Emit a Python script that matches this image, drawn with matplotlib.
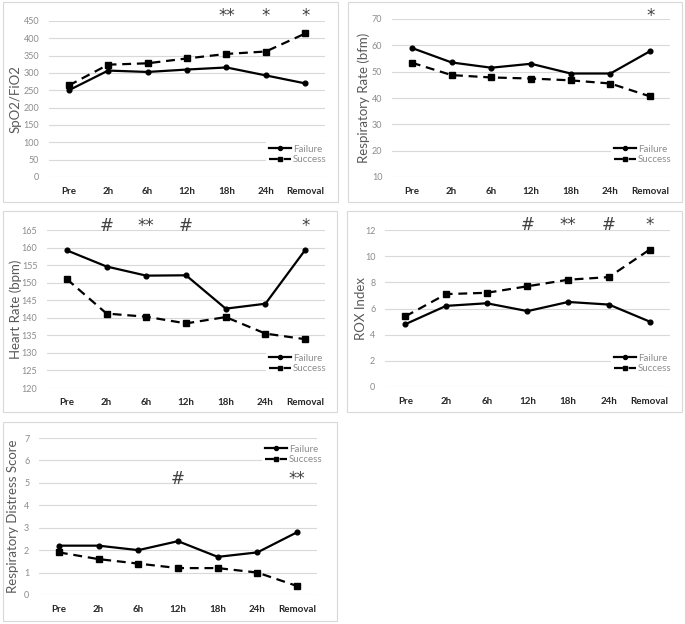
import matplotlib
matplotlib.use("Agg")
import matplotlib.pyplot as plt
from matplotlib.patches import Rectangle
from matplotlib.transforms import blended_transform_factory

plt.rcParams['font.family'] = ['Lato', 'DejaVu Sans']

W, H = 685, 624

# categories
times = ['Pre', '2h', '6h', '12h', '18h', '24h', 'Removal']

# SpO2/FiO2
spo2_failure = [250, 307, 303, 310, 316, 293, 270]
spo2_success = [264, 324, 328, 342, 355, 362, 414]
spo2_marks = {4: '**', 5: '*', 6: '*'}

# respiratory rate
rr_failure = [59.0, 53.5, 51.5, 53.0, 49.3, 49.3, 57.8]
rr_success = [53.4, 48.7, 47.8, 47.4, 46.7, 45.5, 40.6]
rr_marks = {6: '*'}

# heart rate
hr_failure = [159.2, 154.6, 152.0, 152.1, 142.6, 144.0, 159.3]
hr_success = [151.0, 141.2, 140.3, 138.4, 140.2, 135.5, 133.9]
hr_marks = {1: '#', 2: '**', 3: '#', 6: '*'}

# ROX index
rox_failure = [4.8, 6.2, 6.4, 5.8, 6.5, 6.3, 5.0]
rox_success = [5.4, 7.1, 7.2, 7.7, 8.2, 8.4, 10.5]
rox_marks = {3: '#', 4: '**', 5: '#', 6: '*'}

# respiratory distress score
rds_failure = [2.2, 2.2, 2.0, 2.4, 1.7, 1.9, 2.8]
rds_success = [1.9, 1.6, 1.4, 1.2, 1.2, 1.0, 0.4]
rds_marks = {3: '#', 6: '**'}

fig = plt.figure(figsize=(W / 100, H / 100), dpi=100)


def px_box(x0, y0, x1, y1):
    return [x0 / W, 1 - y1 / H, (x1 - x0) / W, (y1 - y0) / H]


def border(x0, y0, x1, y1):
    r = Rectangle((x0 / W, 1 - y1 / H), (x1 - x0) / W, (y1 - y0) / H,
                  transform=fig.transFigure, fill=False,
                  edgecolor='#d9d9d9', lw=0.8)
    fig.patches.append(r)


def panel(axbox, frame, fail, succ, yticks, ylabel, marks, mark_y,
          label_x, leg_xy):
    border(*frame)
    ax = fig.add_axes(px_box(*axbox))
    x = range(len(times))
    ax.plot(x, fail, color='black', lw=1.6, marker='o', ms=3.4,
            label='Failure', zorder=3)
    ax.plot(x, succ, color='black', lw=1.6, marker='s', ms=4,
            dashes=(4, 2.6), label='Success', zorder=3)
    ax.set_xlim(-0.5, len(times) - 0.5)
    ax.set_ylim(yticks[0], yticks[-1])
    ax.set_yticks(yticks)
    ax.set_xticks(list(x))
    ax.set_xticklabels(times, fontsize=7, fontweight='bold', color='#262626')
    ax.tick_params(axis='y', labelsize=6.5, labelcolor='#8c8c8c', length=0, pad=7)
    ax.tick_params(axis='x', length=0, pad=7)
    ax.grid(axis='y', color='#d9d9d9', lw=0.8)
    ax.set_axisbelow(True)
    for s in ax.spines.values():
        s.set_visible(False)
    ax.set_ylabel(ylabel, fontsize=9.5, color='#595959')
    ax.yaxis.set_label_coords((label_x + 7) / W, 0.5,
                              transform=blended_transform_factory(fig.transFigure, ax.transAxes))
    for i, txt in marks.items():
        ax.text(i, mark_y, txt, ha='center', va='center', fontsize=12,
                family='DejaVu Sans', color='#404040', clip_on=False)
    leg = ax.legend(loc='upper left', bbox_to_anchor=(leg_xy[0] / W, 1 - leg_xy[1] / H),
                    bbox_transform=fig.transFigure, fontsize=7, frameon=True,
                    facecolor='white', edgecolor='none', framealpha=1,
                    handlelength=2.3, handletextpad=0.2, labelspacing=0.15,
                    borderpad=0.3, fancybox=False, markerscale=0.85)
    for t in leg.get_texts():
        t.set_color('#8c8c8c')
    return ax


panel((49, 21, 325, 177), (3, 2, 338, 202), spo2_failure, spo2_success,
      list(range(0, 451, 50)), 'SpO2/FiO2', spo2_marks, 464, 15, (261, 137))
panel((392, 19, 670, 177), (348, 2, 682, 202), rr_failure, rr_success,
      list(range(10, 71, 10)), 'Respiratory Rate (bfm)', rr_marks, 71.2, 363, (606, 137))
panel((47, 230, 325, 388), (3, 211, 337, 412), hr_failure, hr_success,
      list(range(120, 166, 5)), 'Heart Rate (bpm)', hr_marks, 166.2, 15, (261, 346))
panel((385, 230, 670, 387), (347, 211, 682, 412), rox_failure, rox_success,
      list(range(0, 13, 2)), 'ROX Index', rox_marks, 12.35, 360, (606, 346))
panel((39, 438, 317, 595), (3, 422, 337, 621), rds_failure, rds_success,
      list(range(0, 8)), 'Respiratory Distress Score', rds_marks, 5.15, 12, (257, 437))

fig.savefig('out.png', dpi=100, facecolor='white')
